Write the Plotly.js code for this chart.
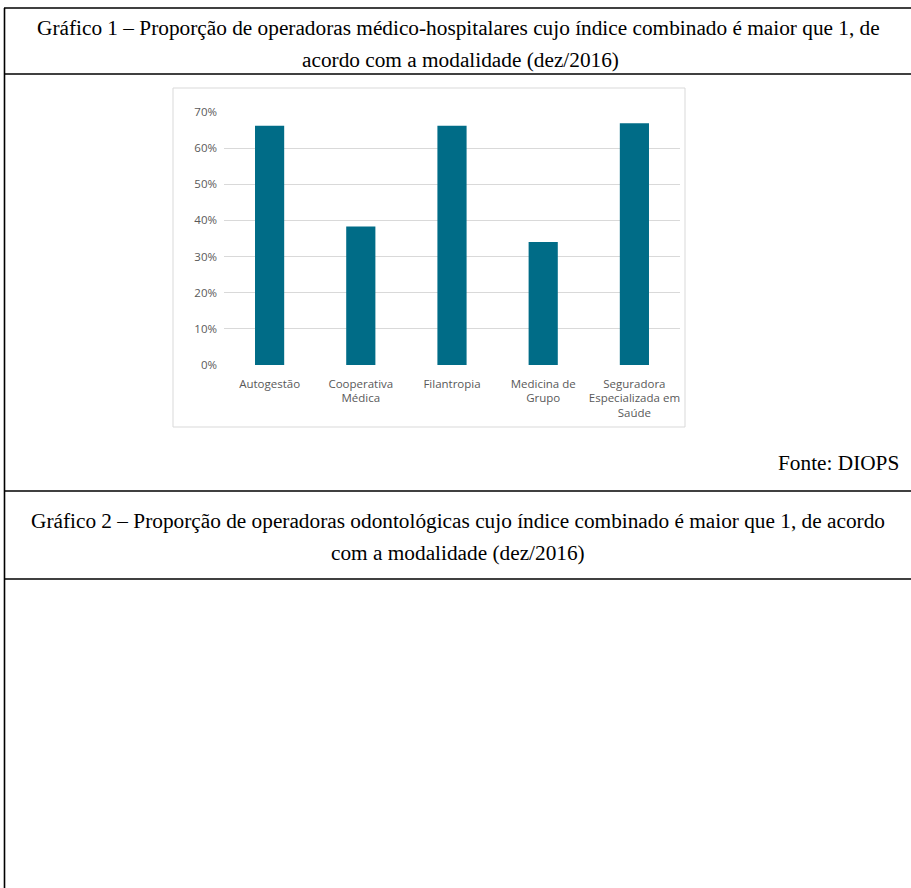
<!DOCTYPE html>
<html>
<head>
<meta charset="utf-8">
<script src="https://cdn.plot.ly/plotly-3.0.1.min.js"></script>
<style>
html,body{margin:0;padding:0;background:#fff;}
#chart{width:911px;height:888px;}
</style>
</head>
<body>
<div id="chart"></div>
<script>
// ---- data ----
var categories = ["Autogestão", "Cooperativa<br>Médica", "Filantropia", "Medicina de<br>Grupo", "Seguradora<br>Especializada em<br>Saúde"];
var proportions = [0.662, 0.383, 0.662, 0.340, 0.669];
var yTickValues = [0, 0.1, 0.2, 0.3, 0.4, 0.5, 0.6, 0.7];

var title1Line1 = "Gráfico 1 – Proporção de operadoras médico-hospitalares cujo índice combinado é maior que 1, de";
var title1Line2 = "acordo com a modalidade (dez/2016)";
var sourceText = "Fonte: DIOPS";
var title2Line1 = "Gráfico 2 – Proporção de operadoras odontológicas cujo índice combinado é maior que 1, de acordo";
var title2Line2 = "com a modalidade (dez/2016)";

// ---- layout geometry (pixels) ----
var L = 224, R = 680, T = 112, B = 365, W = 911, Hh = 888;
function xp(px){ return (px - L) / (R - L); }
function yp(py){ return (B - py) / (B - T); }

var serif = "Liberation Serif, Times New Roman, serif";
function docText(text, px, py, anchor){
  return {text: text, x: xp(px), y: yp(py), xref: "paper", yref: "paper",
    xanchor: anchor || "center", yanchor: "middle", showarrow: false,
    font: {family: serif, size: 21.3, color: "#000"}};
}
function hline(py){
  return {type: "line", xref: "paper", yref: "paper", x0: xp(4), x1: xp(911), y0: yp(py), y1: yp(py),
    line: {color: "#000", width: 1.6}};
}

var trace = {
  type: "bar",
  x: categories,
  y: proportions,
  marker: {color: "#006C87"},
  hoverinfo: "x+y"
};

var layout = {
  width: W, height: Hh,
  margin: {l: L, r: W - R, t: T, b: Hh - B},
  paper_bgcolor: "#fff", plot_bgcolor: "#fff",
  showlegend: false,
  bargap: 0.68,
  font: {family: "Open Sans, sans-serif", color: "#595959"},
  xaxis: {
    type: "category",
    showgrid: false, zeroline: false, showline: false, ticks: "",
    tickfont: {size: 11.5, color: "#595959"},
    ticklabelstandoff: 10,
    fixedrange: true
  },
  yaxis: {
    range: [0, 0.7],
    tickvals: yTickValues,
    tickformat: ".0%",
    showgrid: true, gridcolor: "#D9D9D9", gridwidth: 1,
    zeroline: false, showline: false, ticks: "",
    tickfont: {size: 11.5, color: "#595959"},
    ticklabelstandoff: 6,
    fixedrange: true
  },
  shapes: [
    // chart frame
    {type: "rect", xref: "paper", yref: "paper", x0: xp(173), x1: xp(685), y0: yp(88), y1: yp(427),
      line: {color: "#D9D9D9", width: 1}, fillcolor: "rgba(0,0,0,0)", layer: "below"},
    // document table lines
    hline(8), hline(74), hline(491), hline(579),
    {type: "line", xref: "paper", yref: "paper", x0: xp(4.5), x1: xp(4.5), y0: yp(8), y1: yp(888),
      line: {color: "#000", width: 1.6}}
  ],
  annotations: [
    docText(title1Line1, 458, 28),
    docText(title1Line2, 460, 60),
    docText(sourceText, 901, 463, "right"),
    docText(title2Line1, 458, 521),
    docText(title2Line2, 458, 553)
  ]
};

Plotly.newPlot("chart", [trace], layout, {displayModeBar: false, staticPlot: true});
</script>
</body>
</html>
